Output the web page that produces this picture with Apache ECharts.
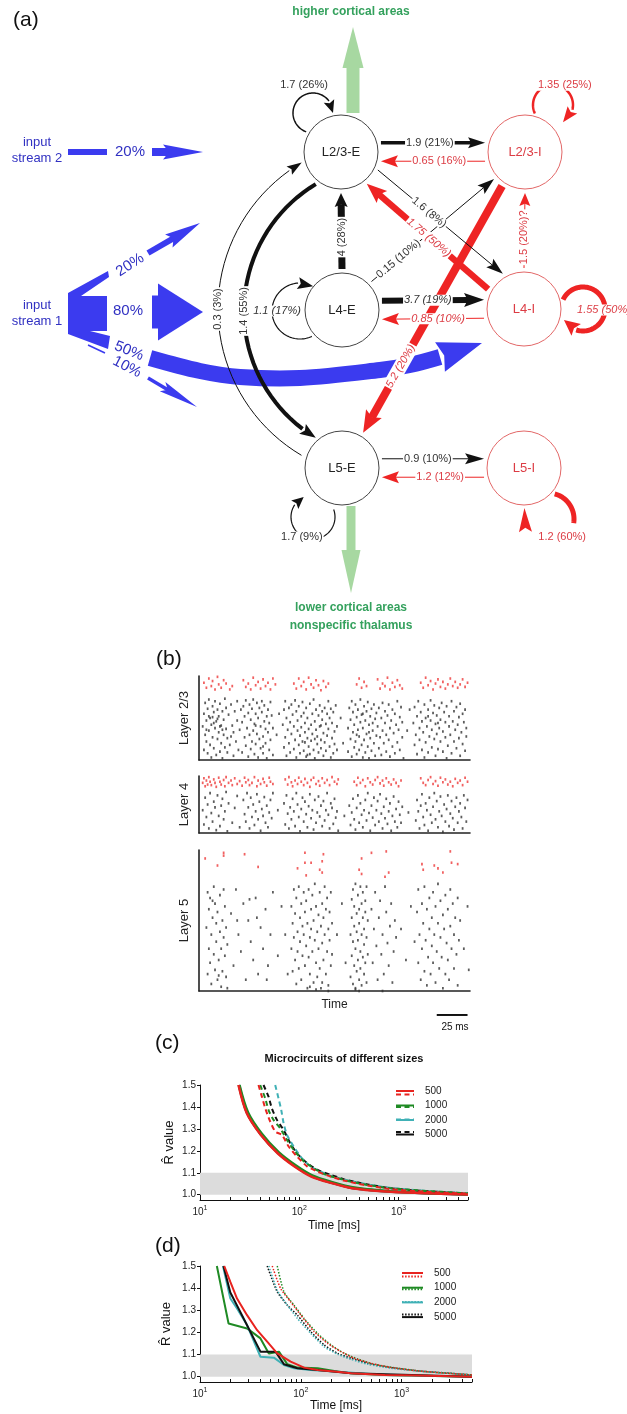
<!DOCTYPE html>
<html><head><meta charset="utf-8">
<script src="https://cdn.jsdelivr.net/npm/echarts@6/dist/echarts.min.js"></script>
<style>html,body{margin:0;padding:0;background:#fff}#c{width:627px;height:1414px}</style>
</head><body><div id="c"></div>
<script>
const FONT = '"Liberation Sans", Arial, Helvetica, sans-serif';
// ================= (a) circuit diagram =================
const nodeNames = ['L2/3-E','L2/3-I','L4-E','L4-I','L5-E','L5-I'];
const nodeKinds = ['E','I','E','I','E','I'];
const nodePos = [[341,152],[525,152],[342,310],[524,309],[342,468],[524,468]]; // layout
const NODE_R = 37;

const edgeLabels = ['1.9 (21%)','0.65 (16%)','3.7 (19%)','0.85 (10%)','0.9 (10%)','1.2 (12%)','4 (28%)','1.6 (8%)','0.15 (10%)','1.75 (50%)','5.2 (20%)','1.5 (20%)?'];
const edgeFrom = [0,1,2,3,4,5,2,0,2,3,1,3];
const edgeTo   = [1,0,3,2,5,4,0,3,1,0,4,1];
const edgeKind = ['E','I','E','I','E','I','E','E','E','I','I','I'];
// layout/style: fromAngle, toAngle, width, headLen, headW, labelT, labelRot, italic, halo
const edgeGeom = [
  [-13,193, 3.5,17,11, 0.47,0,0,0],
  [167,13, 1,17,12, 0.44,0,0,0],
  [-13,193, 6,20,14, 0.45,0,1,0],
  [167,13, 1,17,12, 0.45,0,1,0],
  [-13,193, 1,19,11, 0.45,0,0,0],
  [167,13, 1,17,12, 0.43,0,0,0],
  [-90,90, 7,14,13, 0.42,90,0,0],
  [26,239, 1,17,11, 0.41,-39.8,0,0],
  [-44,139, 1,17,11, 0.22,40,0,0],
  [209,51, 6.5,20,16, 0.49,-40.4,1,0],
  [124,-59, 8,22,18, 0.73,60.6,1,1],
  [-90,90, 1,13,11, 0.41,90,0,0]
];

const loopLabels = ['1.7 (26%)','1.1 (17%)','1.7 (9%)','1.35 (25%)','1.55 (50%)','1.2 (60%)','1.4 (55%)','0.3 (3%)'];
const loopKind = ['E','E','E','I','I','I','E','E'];
// layout: cx, cy, r, arcFrom, arcTo, headBase, headTip, lineW, headW, labelAngle, labelDist, labelRot, italic
const loopGeom = [
  [313,113,20, 110,323, 323,360, 1.5,11, 252,29, 0,0],
  [300,311,28, 65,266, 266,298, 1.2,12, 180,23, 0,1],
  [313,517,22, -20,214, 214,245, 1.2,11, 119,23, 0,0],
  [553,105,20, 155,374, 374,420, 2.5,12, 301,23, 0,0],
  [583,309,22, 205,468, 468,510, 5,15, 3,21, 0,1],
  [548,519,26, -75,9, 150,205, 5,13, 52,23, 0,0],
  [392,311,148, 239,127.2, 127.2,121, 4,12, 180,148, 90,0],
  [388,309,170, 120.6,234.5, 234.5,239.5, 1,10, 180,170, 90,0]
];

const bluePctLabels = ['20%','20%','80%','50%','10%'];
const bluePctLayout = [[130,152,0],[130,265,33],[128,311,0],[129,351,-22],[127,367,-27]];
const blueArrowLayout = [
  {pts:[[152,152],[203,152]], w:8, hl:40, hw:15, notch:0.15},
  {pts:[[148,253],[200,223]], w:6, hl:36, hw:15, notch:0.15},
  {pts:[[152,312],[203,312]], w:33, hl:45, hw:57, notch:0},
  {pts:[[150,358],[200,371],[240,377],[300,378],[380,370],[410,365],[440,357],[482,343]], w:16, hl:44, hw:31, notch:0.1, curve:true},
  {pts:[[148,378],[197,407]], w:3.5, hl:40, hw:11, notch:0.15}
];
const streamNames = ['input\nstream 2','input\nstream 1'];
const streamLayout = [
  {text:[37,150], poly:[[68,149],[107,149],[107,155],[68,155]], lines:[]},
  {text:[37,313], poly:[[68,293],[108,271],[109,277],[81,296],[107,296],[107,331],[90,331],[110,336],[108,349],[68,334]], lines:[[[88,345],[105,353]]]}
];
const outputLabels = ['higher cortical areas','lower cortical areas\nnonspecific thalamus'];
const outputLayout = [
  {pts:[[353,113],[353,27]], w:13, hl:41, hw:21, text:[351,12]},
  {pts:[[351,506],[351,593]], w:9, hl:43, hw:19, text:[351,617]}
];

// ================= (b) spike rasters (time ms, neuron row) =================
const L23_black = "3,40 4,12 4,55 5,30 5,68 6,22 6,47 7,8 7,61 8,35 8,72 9,18 9,50 10,3 10,42 11,27 11,64 12,57 12,14 13,38 13,70 14,6 14,46 15,25 15,60 16,33 16,52 17,10 17,67 18,41 18,20 19,58 19,2 20,48 20,30 21,15 21,73 22,37 22,62 23,26 23,9 12,44 8,52 15,49 11,51 17,40 6,36 19,36 24,54 25,18 26,66 27,41 28,5 28,33 29,58 30,22 31,47 31,70 32,12 33,36 34,60 26,28 35,45 35,9 36,64 37,27 37,52 38,17 38,71 39,38 40,4 40,56 41,30 41,66 42,13 42,48 43,22 43,61 44,35 44,72 45,7 45,43 46,55 46,19 47,68 47,31 48,3 48,50 49,25 49,62 50,40 50,14 51,57 51,70 52,28 52,8 53,46 53,65 54,20 54,37 55,52 55,2 56,60 56,33 57,12 57,44 58,69 58,24 59,53 60,38 60,6 46,41 52,16 63,30 65,55 68,42 69,15 69,60 70,27 70,70 71,5 71,50 72,36 73,62 73,20 74,9 74,45 75,31 75,66 76,54 77,13 77,40 78,71 78,24 79,3 79,58 80,35 80,47 81,18 81,64 82,29 82,8 83,52 83,39 84,69 84,22 85,11 85,56 86,33 86,44 87,62 87,4 88,26 88,50 89,16 89,37 90,67 90,7 91,42 91,23 92,55 92,31 93,12 93,72 94,46 94,2 95,36 95,60 96,19 96,28 97,53 97,9 98,40 98,65 99,24 99,14 100,48 100,58 101,32 101,5 102,62 102,21 103,43 103,11 104,55 104,29 105,70 105,37 106,16 106,50 107,3 107,61 108,26 108,44 109,8 109,57 110,34 110,19 111,65 112,40 112,12 86,21 94,25 99,41 88,6 115,50 117,20 121,38 121,10 122,62 123,25 123,48 124,4 124,70 125,33 125,57 126,15 126,42 127,66 127,22 128,51 128,7 129,36 129,60 130,28 130,12 131,45 131,72 132,18 132,54 133,3 133,38 134,64 134,24 135,47 135,9 136,58 136,31 137,16 137,69 138,42 138,2 139,26 139,52 140,61 140,11 141,35 141,44 142,20 142,66 143,5 143,49 144,29 144,56 128,30 133,55 138,33 145,40 146,14 146,62 147,27 148,50 148,6 149,35 149,68 150,20 151,44 151,58 152,10 152,30 153,53 154,24 154,66 155,4 155,38 156,47 157,16 157,60 158,32 159,55 159,8 160,42 161,21 161,70 162,36 163,12 163,51 164,63 165,27 165,45 166,2 169,35 171,60 174,44 175,18 175,63 176,30 177,52 177,7 178,70 179,38 179,24 180,57 181,12 181,46 182,33 183,66 183,3 184,50 184,21 185,40 186,9 186,60 187,28 188,71 188,47 189,15 189,36 190,56 191,25 191,65 192,5 192,43 193,53 193,31 194,13 195,62 195,38 196,22 196,48 197,68 198,10 198,34 199,57 200,27 200,45 201,2 201,64 202,17 203,40 203,52 204,30 205,70 205,8 206,46 207,22 207,58 208,36 209,14 209,63 210,42 211,26 211,51 212,5 212,67 213,33 214,19 214,55 215,45 216,11 216,60 217,28 217,38 194,44 186,52";
const L23_red = "4,92 6,86 8,97 10,88 11,94 13,84 15,99 16,90 18,86 20,95 22,91 25,84 27,88 36,95 38,87 40,91 42,84 44,98 46,89 48,93 50,85 52,96 54,88 56,92 58,84 60,97 62,90 77,91 79,85 81,97 83,88 85,93 87,84 89,98 91,90 93,86 95,95 97,89 99,83 101,94 103,87 105,91 128,90 130,97 132,86 134,93 136,88 145,96 147,85 149,91 151,88 153,98 155,84 157,92 159,87 161,95 163,89 165,85 180,92 182,86 184,98 186,89 188,94 190,84 192,91 194,96 196,87 198,93 200,85 202,90 204,97 206,88 208,93 210,86 212,90 214,96 216,87 218,92";
const L4_black = "3,40 4,15 5,62 6,28 7,50 8,8 9,70 10,35 11,20 12,55 13,45 14,5 15,66 16,30 17,12 18,48 19,60 20,24 21,38 22,72 23,3 24,52 27,18 29,44 31,65 33,10 36,58 37,33 38,20 39,70 40,45 41,8 42,62 43,28 44,50 45,14 46,38 47,68 48,24 49,55 50,4 51,42 52,30 53,63 54,18 55,48 56,10 57,36 58,58 59,26 60,70 64,40 69,52 70,15 71,66 72,34 73,8 74,45 75,24 76,60 77,38 78,12 79,70 80,50 81,28 82,3 83,42 84,62 85,20 86,55 87,33 88,10 89,47 90,68 91,26 92,40 93,6 94,58 95,18 96,36 97,64 98,29 99,48 100,12 101,56 102,22 103,40 104,70 105,32 106,8 107,52 108,44 109,16 110,60 111,27 112,38 113,4 118,30 122,48 123,14 124,36 125,60 126,24 127,6 128,44 129,66 130,18 131,52 132,32 133,10 134,40 135,58 136,22 137,70 138,35 139,4 140,48 141,27 142,62 143,14 144,40 145,56 146,20 147,68 148,34 149,8 150,46 151,26 152,60 153,16 154,38 155,52 156,4 157,30 158,64 159,20 160,42 161,10 162,55 163,32 164,18 165,46 170,36 176,22 177,58 178,38 179,8 180,48 181,68 182,28 183,14 184,52 185,40 186,4 187,62 188,32 189,18 190,46 191,70 192,24 193,56 194,10 195,38 196,64 197,30 198,2 199,50 200,20 201,42 202,66 203,12 204,34 205,56 206,26 207,6 208,46 209,62 210,18 211,38 212,52 213,28 214,8 215,66 216,44 217,20 218,58";
const L4_red = "3,88 4,96 5,82 6,92 7,85 8,98 9,90 10,84 12,94 13,88 14,81 16,97 17,90 18,85 20,93 21,82 22,98 24,88 26,92 27,84 29,96 31,86 33,91 35,83 37,97 38,89 40,93 41,84 43,88 45,98 47,82 48,92 50,86 52,95 53,89 55,83 57,97 58,90 60,86 70,94 72,85 73,98 75,89 76,82 78,92 80,86 81,97 83,90 85,84 86,95 88,88 90,81 91,93 93,97 95,86 97,91 98,83 100,96 102,88 104,93 106,84 108,98 110,90 112,86 113,94 126,90 128,84 129,97 131,88 133,93 135,82 137,96 139,89 141,85 143,93 145,98 147,87 149,92 150,83 152,96 154,89 156,85 158,94 160,88 162,82 164,92 180,96 182,88 184,84 186,93 188,98 190,86 192,91 194,83 196,97 198,89 200,94 202,85 204,90 206,82 208,95 210,88 212,92 214,84 216,97 218,90";
const L5_black = "6,45 7,12 7,70 8,30 8,58 9,20 9,66 10,5 10,40 11,52 12,26 12,74 13,62 13,15 14,35 14,48 15,8 15,56 16,22 17,42 17,68 18,3 18,30 19,50 19,14 20,72 20,38 21,25 21,60 22,10 22,45 23,33 23,2 11,64 16,11 26,55 28,18 30,72 32,40 34,28 36,62 38,8 40,50 42,35 44,22 46,66 48,12 50,45 52,30 54,58 56,18 58,40 60,70 47,52 55,8 31,50 41,65 64,25 67,60 70,40 72,12 75,30 75,60 76,48 76,14 77,72 77,38 78,22 78,55 79,5 79,66 80,42 80,28 81,74 81,16 82,52 82,35 83,62 83,8 84,46 84,25 85,70 85,40 86,18 86,56 87,32 87,64 88,2 88,48 89,24 89,72 90,38 90,12 91,58 91,44 92,28 92,68 93,6 93,50 94,36 94,76 95,20 95,60 96,42 96,10 97,54 97,30 98,70 98,16 99,46 99,2 100,62 100,34 101,22 101,52 102,74 102,40 103,12 103,58 104,28 104,66 105,44 105,4 106,36 106,56 107,18 107,70 108,48 108,26 90,3 95,1 100,6 105,0 112,40 116,62 119,20 123,40 123,10 124,65 124,25 124,52 125,5 125,72 125,35 126,18 126,60 126,46 127,30 127,76 127,2 128,55 128,14 128,42 129,68 129,22 129,36 130,8 130,58 130,48 131,28 131,74 131,16 132,62 132,40 132,4 133,52 133,24 133,70 134,12 134,44 134,33 135,64 135,20 135,56 136,6 136,38 136,74 137,50 137,26 130,0 127,1 140,58 141,20 142,44 143,70 144,32 145,8 146,52 147,64 148,26 149,40 150,12 151,74 152,56 153,34 154,18 155,46 156,62 157,6 158,28 159,50 160,38 149,0 164,44 168,22 172,60 175,35 177,56 178,20 178,72 179,40 180,8 181,62 181,30 182,48 183,14 183,74 184,36 185,58 185,4 186,24 187,66 187,44 188,12 189,52 189,32 190,70 190,20 191,40 192,60 192,6 193,28 194,48 194,76 195,16 196,38 196,64 197,24 198,54 198,2 199,44 200,68 200,12 201,34 202,58 202,22 203,8 204,46 204,72 205,30 206,62 207,16 207,40 208,52 209,26 210,66 210,4 211,36 212,50 215,30 218,60 219,15";
const L5_red = "5,94 20,98 20,96 15,89 37,97 48,88 80,87 86,98 86,91 91,91 87,82 101,97 100,92 98,86 100,84 132,94 130,86 132,83 140,98 152,99 151,81 154,84 181,90 182,86 191,89 194,87 198,84 204,99 205,91 210,90";
const scaleBar = [[193,-17],[218,-17]]; // 25 ms
const parsePts = s => s.trim().split(/\s+/).map(p => p.split(',').map(Number));

// ================= (c) =================
const sizes = ['500','1000','2000','5000'];
const c500s = [[24.4,1.5],[29.6,1.371],[40.9,1.273],[60.5,1.189],[89.5,1.129],[132,1.083],[212,1.053],[340,1.030],[743,1.015],[1626,1.008],[5000,1.001]];
const c1000s = [[25,1.5],[30.5,1.375],[42,1.278],[62,1.194],[92,1.134],[135,1.088],[215,1.057],[345,1.034],[750,1.017],[1650,1.009],[5000,1.002]];
const c2000s = [[24.8,1.5],[30,1.373],[41.5,1.276],[61,1.192],[91,1.132],[134,1.086],[214,1.055],[342,1.032],[745,1.016],[1640,1.009],[5000,1.002]];
const c5000s = [[24.6,1.5],[29.8,1.372],[41,1.275],[60.8,1.191],[90,1.131],[133,1.085],[213,1.054],[341,1.031],[744,1.016],[1630,1.008],[5000,1.001]];
const c500d = [[38.8,1.5],[42.0,1.447],[45.4,1.394],[50.1,1.341],[57.2,1.288],[66.8,1.273],[78.0,1.220],[94.7,1.174],[120,1.129],[151,1.106],[206,1.083],[280,1.065],[446,1.045],[830,1.026],[1805,1.014],[5000,1.005]];
const c1000d = [[40.4,1.5],[45.4,1.439],[49.0,1.386],[55.0,1.341],[64.3,1.303],[75.1,1.250],[87.6,1.205],[111,1.152],[140,1.121],[176,1.095],[240,1.076],[382,1.053],[711,1.033],[1545,1.020],[5000,1.006]];
const c2000d = [[57.2,1.5],[61.8,1.439],[65.8,1.386],[69.5,1.326],[75.1,1.273],[87.6,1.220],[106,1.167],[129,1.129],[163,1.106],[214,1.083],[270,1.071],[382,1.056],[711,1.035],[1545,1.020],[5000,1.006]];
const c5000d = [[43.6,1.5],[49.0,1.447],[52.9,1.394],[59.5,1.341],[69.5,1.295],[81.1,1.235],[94.7,1.189],[120,1.144],[151,1.114],[206,1.091],[280,1.071],[446,1.050],[830,1.030],[1805,1.017],[5000,1.006]];
// ================= (d) =================
const d500s = [[17.4,1.5],[20.0,1.428],[23.3,1.353],[29.3,1.278],[36.9,1.210],[46.4,1.158],[58.4,1.105],[79.4,1.068],[108,1.041],[147,1.030],[215,1.023],[316,1.015],[681,1.008],[1468,1.005],[5000,1.0]];
const d1000s = [[14.7,1.5],[19.2,1.240],[29.3,1.218],[39.8,1.173],[48.2,1.105],[60.7,1.113],[73.6,1.056],[92.6,1.041],[147,1.038],[215,1.026],[316,1.015],[681,1.008],[5000,1.0]];
const d2000s = [[16.9,1.5],[20.0,1.353],[23.3,1.308],[29.3,1.233],[39.8,1.090],[54.1,1.086],[68.1,1.053],[85.8,1.038],[126,1.030],[215,1.023],[681,1.008],[5000,1.0]];
const d5000s = [[17.1,1.5],[20.0,1.380],[27.1,1.263],[39.8,1.113],[56.2,1.113],[68.1,1.056],[92.6,1.038],[147,1.030],[316,1.015],[5000,1.0]];
const d500t = [[52.1,1.5],[63.1,1.398],[79.4,1.338],[100,1.278],[136,1.203],[185,1.150],[251,1.113],[341,1.083],[501,1.060],[794,1.041],[1468,1.026],[3162,1.014],[5000,1.008]];
const d1000t = [[58.4,1.5],[68.1,1.383],[85.8,1.323],[108,1.263],[147,1.195],[200,1.143],[271,1.105],[369,1.080],[541,1.056],[926,1.038],[1711,1.023],[5000,1.008]];
const d2000t = [[48.2,1.5],[58.4,1.390],[73.6,1.323],[92.6,1.263],[126,1.195],[171,1.135],[233,1.101],[316,1.078],[464,1.056],[794,1.038],[1711,1.023],[5000,1.008]];
const d5000t = [[46.4,1.5],[58.4,1.383],[73.6,1.323],[92.6,1.278],[126,1.203],[171,1.143],[233,1.105],[316,1.083],[464,1.060],[681,1.045],[1468,1.026],[3162,1.015],[5000,1.008]];
const yTickVals = [1.0,1.1,1.2,1.3,1.4,1.5];
const xLabelVals = [10,100,1000];
const xTickVals = [10,20,30,40,50,60,70,80,90,100,200,300,400,500,600,700,800,900,1000,2000,3000,4000,5000];

// ---------- colours ----------
const C_E='#111111', C_I='#ee2424', T_E='#333333', T_I='#dc3c44';
const C_BLUE='#3b3bef', T_BLUE='#3131c2', C_GREEN='#a7d8a1', T_GREEN='#34a15d';
const COL = {'500':'#e8231f','1000':'#1f8a24','2000':'#40b1b6','5000':'#111111'};
const D2R = Math.PI/180;

// ---------- drawing helpers ----------
function nodePoint(i, deg){ const c=nodePos[i], a=deg*D2R; return [c[0]+(NODE_R+4)*Math.cos(a), c[1]+(NODE_R+4)*Math.sin(a)]; }
function headPoly(B, ux, uy, hl, hw, notch){
  const nx=-uy, ny=ux, S=[B[0]-ux*hl, B[1]-uy*hl], k=hl*notch;
  return [B,[S[0]+nx*hw/2,S[1]+ny*hw/2],[S[0]+ux*k,S[1]+uy*k],[S[0]-nx*hw/2,S[1]-ny*hw/2]];
}
function arrowEls(A, B, w, hl, hw, color, notch, z2, halo){
  const dx=B[0]-A[0], dy=B[1]-A[1], L=Math.hypot(dx,dy), ux=dx/L, uy=dy/L, nx=-uy, ny=ux;
  const E=[B[0]-ux*hl*0.8, B[1]-uy*hl*0.8];
  const els=[];
  const rect=(ww)=>[[A[0]+nx*ww/2,A[1]+ny*ww/2],[E[0]+nx*ww/2,E[1]+ny*ww/2],[E[0]-nx*ww/2,E[1]-ny*ww/2],[A[0]-nx*ww/2,A[1]-ny*ww/2]];
  if (halo) els.push({type:'polygon', z2:z2-1, shape:{points:rect(w+6)}, style:{fill:'#fff'}});
  if (w>=2) els.push({type:'polygon', z2, shape:{points:rect(w)}, style:{fill:color}});
  else els.push({type:'line', z2, shape:{x1:A[0],y1:A[1],x2:E[0],y2:E[1]}, style:{stroke:color,lineWidth:w}});
  els.push({type:'polygon', z2, shape:{points:headPoly(B,ux,uy,hl,hw,notch)}, style:{fill:color}});
  return els;
}
function textEl(x,y,text,color,size,rotDeg,italic,bg,z2,bold,lh){
  const st={text, fill:color, font:(italic?'italic ':'')+(bold?'bold ':'')+size+'px '+FONT, align:'center', verticalAlign:'middle'};
  if (lh) st.lineHeight=lh;
  if (bg){ st.backgroundColor='#fff'; st.padding=[0,1]; }
  return {type:'text', z2:z2||10, x, y, rotation:(rotDeg||0)*D2R, style:st};
}
function arcPts(api,cx,cy,r,a0,a1){
  const n=Math.max(8,Math.ceil(Math.abs(a1-a0)/3)), pts=[];
  for(let k=0;k<=n;k++){ const a=(a0+(a1-a0)*k/n)*D2R; pts.push(api.coord([cx+r*Math.cos(a), cy+r*Math.sin(a)])); }
  return pts;
}

// ---------- custom series renderers ----------
function renderOutputs(params, api){
  const i=params.dataIndex, g=outputLayout[i];
  const A=api.coord(g.pts[0]), B=api.coord(g.pts[1]);
  const els=arrowEls(A,B,g.w,g.hl,g.hw,C_GREEN,0,1);
  const t=api.coord(g.text);
  els.push(textEl(t[0],t[1],outputLabels[i],T_GREEN,12,0,0,0,10,1,18));
  return {type:'group', children:els};
}
function renderStreams(params, api){
  const i=params.dataIndex, g=streamLayout[i];
  const els=[{type:'polygon', shape:{points:g.poly.map(p=>api.coord(p))}, style:{fill:C_BLUE}}];
  g.lines.forEach(l=>{ const a=api.coord(l[0]), b=api.coord(l[1]); els.push({type:'line', shape:{x1:a[0],y1:a[1],x2:b[0],y2:b[1]}, style:{stroke:C_BLUE,lineWidth:1.5}}); });
  const t=api.coord(g.text);
  els.push(textEl(t[0],t[1],streamNames[i],T_BLUE,13,0,0,0,10,0,16));
  return {type:'group', children:els};
}
function renderInputs(params, api){
  const i=params.dataIndex, g=blueArrowLayout[i], lay=bluePctLayout[i];
  let els=[];
  if (g.curve){
    const pts=g.pts.map(p=>api.coord(p));
    const body=pts.slice(0,pts.length-1);
    els.push({type:'polyline', shape:{points:body, smooth:0.35}, style:{stroke:C_BLUE, lineWidth:g.w, fill:null, lineCap:'butt'}});
    const B=pts[pts.length-1], S=pts[pts.length-2];
    const dx=B[0]-S[0], dy=B[1]-S[1], L=Math.hypot(dx,dy);
    els.push({type:'polygon', shape:{points:headPoly(B,dx/L,dy/L,L,g.hw,g.notch)}, style:{fill:C_BLUE}});
  } else {
    els=arrowEls(api.coord(g.pts[0]),api.coord(g.pts[1]),g.w,g.hl,g.hw,C_BLUE,g.notch,1);
  }
  const t=api.coord([lay[0],lay[1]]);
  els.push(textEl(t[0],t[1],bluePctLabels[i],T_BLUE,15,lay[2],0,0,10));
  return {type:'group', children:els};
}
function renderEdges(params, api){
  const i=params.dataIndex, g=edgeGeom[i];
  const A=api.coord(nodePoint(edgeFrom[i],g[0])), B=api.coord(nodePoint(edgeTo[i],g[1]));
  const isI=edgeKind[i]==='I';
  const els=arrowEls(A,B,g[2],g[3],g[4],isI?C_I:C_E,0.18,g[8]?2:4,g[8]);
  const L=[A[0]+(B[0]-A[0])*g[5], A[1]+(B[1]-A[1])*g[5]];
  els.push(textEl(L[0],L[1],edgeLabels[i],isI?T_I:T_E,11,g[6],g[7],1,10));
  return {type:'group', children:els};
}
function renderLoops(params, api){
  const i=params.dataIndex, g=loopGeom[i];
  const isI=loopKind[i]==='I', col=isI?C_I:C_E;
  const els=[{type:'polyline', z2:4, shape:{points:arcPts(api,g[0],g[1],g[2],g[3],g[4])}, style:{stroke:col,lineWidth:g[7],fill:null}}];
  const b=api.coord([g[0]+g[2]*Math.cos(g[5]*D2R), g[1]+g[2]*Math.sin(g[5]*D2R)]);
  const tp=api.coord([g[0]+g[2]*Math.cos(g[6]*D2R), g[1]+g[2]*Math.sin(g[6]*D2R)]);
  const dx=tp[0]-b[0], dy=tp[1]-b[1], L=Math.hypot(dx,dy);
  els.push({type:'polygon', z2:4, shape:{points:headPoly(tp,dx/L,dy/L,L,g[8],0.18)}, style:{fill:col}});
  const lp=api.coord([g[0]+g[10]*Math.cos(g[9]*D2R), g[1]+g[10]*Math.sin(g[9]*D2R)]);
  els.push(textEl(lp[0],lp[1],loopLabels[i],isI?T_I:T_E,11,g[11],g[12],1,10));
  return {type:'group', children:els};
}
function renderNodes(params, api){
  const i=params.dataIndex, c=api.coord(nodePos[i]), r=api.size([NODE_R,0])[0];
  const isI=nodeKinds[i]==='I';
  return {type:'group', children:[
    {type:'circle', shape:{cx:c[0],cy:c[1],r}, style:{fill:'#fff', stroke:isI?'#e26767':'#444', lineWidth:1}},
    textEl(c[0],c[1],nodeNames[i],isI?T_I:'#222',13,0,0,0,10)
  ]};
}

// ---------- axes ----------
const hiddenX = {type:'value', gridIndex:0, min:0, max:627, show:false};
const hiddenY = {type:'value', gridIndex:0, min:0, max:660, inverse:true, show:false};
function rasterX(gi, name){
  return {type:'value', gridIndex:gi, min:0, max:220, axisLine:{show:true, onZero:false, lineStyle:{color:'#222',width:1.6}}, axisTick:{show:false}, axisLabel:{show:false}, splitLine:{show:false},
    name:name||'', nameLocation:'middle', nameGap:8, nameTextStyle:{fontSize:12,color:'#222'}};
}
function rasterY(gi, name){
  return {type:'value', gridIndex:gi, min:0, max:100, axisLine:{show:true, lineStyle:{color:'#222',width:1.6}}, axisTick:{show:false}, axisLabel:{show:false}, splitLine:{show:false},
    name, nameLocation:'middle', nameGap:8, nameTextStyle:{fontSize:13,color:'#222'}};
}
function logX(gi, nameGap){
  return {type:'log', logBase:10, gridIndex:gi, min:10, max:5000,
    axisLine:{show:true, onZero:false, lineStyle:{color:'#111',width:1}},
    axisTick:{show:true, inside:true, length:3, customValues:xTickVals, lineStyle:{color:'#111'}},
    axisLabel:{customValues:xLabelVals, margin:5, color:'#222', formatter:v=>'{b|10}{s|'+Math.round(Math.log10(v))+'}',
      rich:{b:{fontSize:10,color:'#222'}, s:{fontSize:7,color:'#222',padding:[0,0,7,0]}}},
    splitLine:{show:false}, name:'Time [ms]', nameLocation:'middle', nameGap, nameTextStyle:{fontSize:12,color:'#111'}};
}
function valY(gi, nameGap){
  return {type:'value', gridIndex:gi, min:0.976, max:1.5,
    axisLine:{show:true, lineStyle:{color:'#111',width:1}},
    axisTick:{show:true, length:3, customValues:yTickVals, lineStyle:{color:'#111'}},
    axisLabel:{customValues:yTickVals, margin:4, fontSize:10, color:'#222', formatter:v=>v.toFixed(1)},
    splitLine:{show:false}, name:'R\u0302 value', nameLocation:'middle', nameGap, nameTextStyle:{fontSize:13,color:'#111'}};
}

// ---------- series ----------
const series = [
  {type:'custom', name:'outputs', xAxisIndex:0, yAxisIndex:0, z:1, silent:true, data:outputLabels.map((_,i)=>[i,0]), renderItem:renderOutputs},
  {type:'custom', name:'streams', xAxisIndex:0, yAxisIndex:0, z:2, silent:true, data:streamNames.map((_,i)=>[i,0]), renderItem:renderStreams},
  {type:'custom', name:'inputs', xAxisIndex:0, yAxisIndex:0, z:2, silent:true, data:bluePctLabels.map((_,i)=>[i,0]), renderItem:renderInputs},
  {type:'custom', name:'edges', xAxisIndex:0, yAxisIndex:0, z:3, silent:true, data:edgeLabels.map((_,i)=>[i,0]), renderItem:renderEdges},
  {type:'custom', name:'loops', xAxisIndex:0, yAxisIndex:0, z:4, silent:true, data:loopLabels.map((_,i)=>[i,0]), renderItem:renderLoops},
  {type:'custom', name:'nodes', xAxisIndex:0, yAxisIndex:0, z:5, silent:true, data:nodePos, renderItem:renderNodes}
];
const raster = [[L23_black,L23_red],[L4_black,L4_red],[L5_black,L5_red]];
raster.forEach((r,k)=>{
  series.push({type:'scatter', xAxisIndex:k+1, yAxisIndex:k+1, silent:true, symbol:'rect', symbolSize:[1.8,2.6], itemStyle:{color:'#333'}, data:parsePts(r[0])});
  series.push({type:'scatter', xAxisIndex:k+1, yAxisIndex:k+1, silent:true, symbol:'rect', symbolSize:[1.8,2.6], itemStyle:{color:'#ee3a3a'}, data:parsePts(r[1])});
});
series.push({type:'line', xAxisIndex:3, yAxisIndex:3, silent:true, clip:false, symbol:'none', data:scaleBar, lineStyle:{color:'#111',width:2}});

function ln(name, data, color, width, type, ai, smooth, band){
  const s={type:'line', name, xAxisIndex:ai, yAxisIndex:ai, data, symbol:'none', showSymbol:false, smooth, silent:true,
    lineStyle:{color, width, type}, itemStyle:{color}};
  if (band) s.markArea={silent:true, itemStyle:{color:'#dcdcdc'}, data:[[{yAxis:1.0},{yAxis:1.1}]]};
  return s;
}
const DASH=[5,3.5], DOT=[1.5,1.6];
series.push(
  ln('c5000', c5000s, COL['5000'], 2.5, 'solid', 4, 0.3, true),
  ln('c2000', c2000s, COL['2000'], 2.5, 'solid', 4, 0.3),
  ln('c1000', c1000s, COL['1000'], 2.5, 'solid', 4, 0.3),
  ln('c5000d', c5000d, COL['5000'], 2, DASH, 4, 0.2),
  ln('c2000d', c2000d, COL['2000'], 2, DASH, 4, 0.2),
  ln('c1000d', c1000d, COL['1000'], 2, DASH, 4, 0.2),
  ln('c500d', c500d, COL['500'], 2, DASH, 4, 0.2),
  ln('c500', c500s, COL['500'], 2.5, 'solid', 4, 0.3),
  ln('d5000t', d5000t, COL['5000'], 1.5, DOT, 5, 0.2, true),
  ln('d2000t', d2000t, COL['2000'], 1.5, DOT, 5, 0.2),
  ln('d1000t', d1000t, COL['1000'], 1.5, DOT, 5, 0.2),
  ln('d500t', d500t, COL['500'], 1.5, DOT, 5, 0.2),
  ln('d1000', d1000s, COL['1000'], 2, 'solid', 5, 0),
  ln('d2000', d2000s, COL['2000'], 2, 'solid', 5, 0),
  ln('d5000', d5000s, COL['5000'], 2, 'solid', 5, 0),
  ln('d500', d500s, COL['500'], 2, 'solid', 5, 0)
);

function legendOf(prefix, suffix, left, top, w, gap, withText){
  return {orient:'vertical', left, top, padding:0, itemWidth:w, itemHeight:10, itemGap:gap, selectedMode:false,
    itemStyle:{opacity:0, borderWidth:0},
    data:sizes.map(s=>prefix+s+suffix), formatter: withText ? (n=>n.replace(/\D/g,'')) : (()=>''),
    textStyle:{fontSize:10, color:'#222', lineHeight:10, padding:[0,0,0,6]}};
}

const option = {
  animation:false,
  textStyle:{fontFamily:FONT},
  grid:[
    {left:0, top:0, width:627, height:660},
    {left:199, top:676, width:271, height:84},
    {left:199, top:776, width:271, height:57},
    {left:199, top:850, width:271, height:141},
    {left:200, top:1085, width:268, height:115},
    {left:200, top:1266, width:272, height:116}
  ],
  xAxis:[hiddenX, rasterX(1), rasterX(2), rasterX(3,'Time'), logX(4,20), logX(5,16)],
  yAxis:[hiddenY, rasterY(1,'Layer 2/3'), rasterY(2,'Layer 4'), rasterY(3,'Layer 5'), valY(4,24), valY(5,27)],
  legend:[
    legendOf('c','',395,1086,18,4.5,true),
    legendOf('c','d',395,1090.5,18,4.5,false),
    legendOf('d','',401,1268,21,4.7,true),
    legendOf('d','t',401,1272.5,21,4.7,false)
  ],
  graphic:[
    {type:'text', x:13, y:20, style:{text:'(a)', font:'21px '+FONT, fill:'#111', verticalAlign:'middle'}},
    {type:'text', x:156, y:659, style:{text:'(b)', font:'21px '+FONT, fill:'#111', verticalAlign:'middle'}},
    {type:'text', x:155, y:1043, style:{text:'(c)', font:'21px '+FONT, fill:'#111', verticalAlign:'middle'}},
    {type:'text', x:155, y:1246, style:{text:'(d)', font:'21px '+FONT, fill:'#111', verticalAlign:'middle'}},
    {type:'text', x:344, y:1059, style:{text:'Microcircuits of different sizes', font:'bold 11px '+FONT, fill:'#111', align:'center', verticalAlign:'middle'}},
    {type:'text', x:455, y:1027, style:{text:'25 ms', font:'10px '+FONT, fill:'#111', align:'center', verticalAlign:'middle'}}
  ],
  series
};
const chart = echarts.init(document.getElementById('c'), null, {renderer:'canvas', width:627, height:1414});
chart.setOption(option);
</script>
</body></html>
